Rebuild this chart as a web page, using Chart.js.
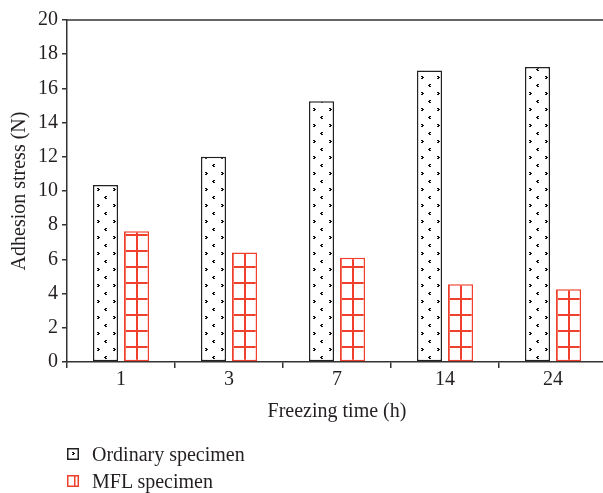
<!DOCTYPE html>
<html>
<head>
<meta charset="utf-8">
<script src="https://cdn.jsdelivr.net/npm/chart.js@4.4.0/dist/chart.umd.min.js"></script>
<style>
  html, body { margin: 0; padding: 0; background: #fff; overflow: hidden; }
  #wrap { position: relative; width: 610px; height: 493px; }
  #adhesionChart { position: absolute; left: 0; top: 0; }
  .legend { position: absolute; left: 67px; top: 0; font-family: "Liberation Serif", serif; font-size: 20px; color: #231f20; }
  .legend div { position: absolute; left: 0; white-space: nowrap; height: 22px; line-height: 22px; }
  .legend canvas { position: absolute; left: 0; top: 5px; }
  .legend span { position: absolute; left: 25px; top: 0; }
</style>
</head>
<body>
<div id="wrap">
  <canvas id="adhesionChart" width="610" height="493"></canvas>
  <div class="legend">
    <div style="top:443px"><canvas id="swatch0" width="12" height="12"></canvas><span>Ordinary specimen</span></div>
    <div style="top:470px"><canvas id="swatch1" width="12" height="12"></canvas><span>MFL specimen</span></div>
  </div>
</div>
<script>
// Data
const categories = ['1', '3', '7', '14', '24'];
const ordinaryValues = [10.35, 12.0, 15.25, 17.05, 17.25];
const mflValues = [7.65, 6.4, 6.1, 4.55, 4.25];
const seriesNames = ['Ordinary specimen', 'MFL specimen'];

const INK = '#231f20';
const RED = '#f0402c';
const FONT = 'Liberation Serif';

// small ">" and "<" marks
function markRight(g, x, y) {
    g.fillRect(x, y, 2, 1); g.fillRect(x + 1, y + 1, 2, 1); g.fillRect(x, y + 2, 2, 1);
}
function markLeft(g, x, y) {
    g.fillRect(x + 1, y, 2, 1); g.fillRect(x, y + 1, 2, 1); g.fillRect(x + 1, y + 2, 2, 1);
}

// Dotted tile for the ordinary specimen bars
function makeDotTile() {
    const c = document.createElement('canvas');
    c.width = 16; c.height = 16;
    const g = c.getContext('2d');
    g.fillStyle = '#fff';
    g.fillRect(0, 0, 16, 16);
    g.fillStyle = '#111';
    markRight(g, 4, 2);
    markLeft(g, 11, 10);
    return c;
}

// Grid tile for the MFL bars
function makeGridTile() {
    const c = document.createElement('canvas');
    c.width = 12; c.height = 16;
    const g = c.getContext('2d');
    g.fillStyle = '#fff';
    g.fillRect(0, 0, 12, 16);
    g.fillStyle = RED;
    g.fillRect(0, 0, 2, 16);
    g.fillRect(0, 0, 12, 2);
    return c;
}

const tmp = document.createElement('canvas').getContext('2d');
const dotTile = makeDotTile();
const gridTile = makeGridTile();
const ordinaryPatterns = categories.map(() => tmp.createPattern(dotTile, 'repeat'));
const mflPatterns = categories.map(() => tmp.createPattern(gridTile, 'repeat'));

// Anchor each bar's pattern to its own left edge and the axis line
const patternAnchor = {
    id: 'patternAnchor',
    beforeDatasetsDraw(chart) {
        const bottom = Math.round(chart.chartArea.bottom);
        [ordinaryPatterns, mflPatterns].forEach((pats, d) => {
            chart.getDatasetMeta(d).data.forEach((bar, i) => {
                const left = Math.round(bar.x - bar.width / 2);
                pats[i].setTransform(new DOMMatrix().translate(left, bottom));
            });
        });
    }
};

// Top frame line
const topLine = {
    id: 'topLine',
    afterDraw(chart) {
        const { ctx, chartArea } = chart;
        ctx.save();
        ctx.strokeStyle = '#333';
        ctx.lineWidth = 1.5;
        ctx.beginPath();
        ctx.moveTo(chartArea.left, chartArea.top);
        ctx.lineTo(chartArea.right, chartArea.top);
        ctx.stroke();
        ctx.restore();
    }
};

const ctx = document.getElementById('adhesionChart').getContext('2d');
new Chart(ctx, {
    type: 'bar',
    data: {
        labels: categories,
        datasets: [{
            label: seriesNames[0],
            data: ordinaryValues,
            backgroundColor: ordinaryPatterns,
            borderColor: '#222',
            borderWidth: 1.5,
            borderSkipped: false
        }, {
            label: seriesNames[1],
            data: mflValues,
            backgroundColor: mflPatterns,
            borderColor: RED,
            borderWidth: 1.5,
            borderSkipped: false
        }]
    },
    options: {
        responsive: false,
        animation: false,
        categoryPercentage: 0.574,
        barPercentage: 0.81,
        layout: { padding: { top: 20, right: 3, bottom: 66, left: 0 } },
        plugins: {
            legend: { display: false },
            tooltip: { enabled: false }
        },
        scales: {
            x: {
                grid: { drawOnChartArea: false, tickLength: 6, color: '#333', lineWidth: 1.5, offset: true },
                border: { color: '#333', width: 1.5 },
                ticks: { color: INK, font: { family: FONT, size: 20 }, padding: 0 },
                title: { display: true, text: 'Freezing time (h)', color: INK,
                         font: { family: FONT, size: 20 }, padding: { bottom: 3 } },
                afterFit: (scale) => { scale.height = 65; }
            },
            y: {
                min: 0,
                max: 20,
                grid: { drawOnChartArea: false, tickLength: 5, color: '#333', lineWidth: 1.5 },
                border: { color: '#333', width: 1.5 },
                ticks: { stepSize: 2, color: INK, font: { family: FONT, size: 20 }, padding: 4 },
                title: { display: true, text: 'Adhesion stress (N)', color: INK,
                         font: { family: FONT, size: 20 }, padding: { top: 8 } },
                afterFit: (scale) => { scale.width = 67; }
            }
        }
    },
    plugins: [patternAnchor, topLine]
});

// Legend swatches
function drawSwatch(id, kind) {
    const g = document.getElementById(id).getContext('2d');
    g.fillStyle = '#fff';
    g.fillRect(0, 0, 12, 12);
    if (kind === 0) {
        g.fillStyle = '#111';
        markRight(g, 5, 4);
        g.strokeStyle = '#222';
    } else {
        g.fillStyle = RED;
        g.fillRect(7, 1, 1.5, 10);
        g.strokeStyle = RED;
    }
    g.lineWidth = 1.5;
    g.strokeRect(0.75, 0.75, 10.5, 10.5);
}
drawSwatch('swatch0', 0);
drawSwatch('swatch1', 1);
</script>
</body>
</html>
